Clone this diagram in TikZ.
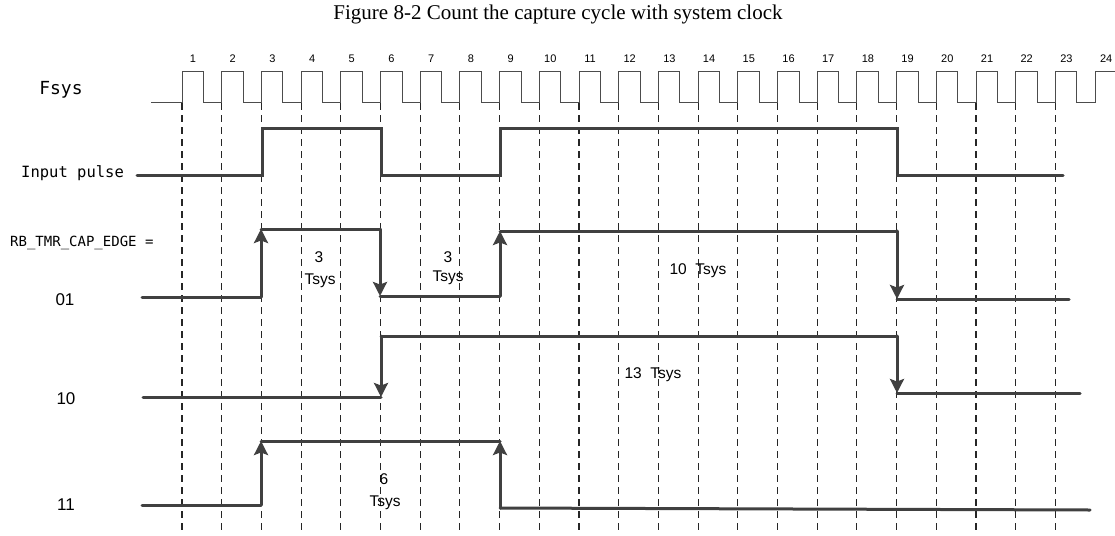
\documentclass[tikz,border=0pt]{standalone}
\usepackage{fontspec}
\setmainfont{Liberation Sans}
\newfontfamily\titlefont{Liberation Serif}
\newfontfamily\codefont{DejaVu Sans Mono}
\usetikzlibrary{arrows.meta}
\definecolor{wavegray}{HTML}{404040}

\begin{document}
\begin{tikzpicture}[x=1pt,y=-1pt,
    wave/.style={line width=3pt,wavegray,line cap=round},
    edge/.style={wave,-{Stealth[length=14pt,width=14pt,inset=2.5pt]}},
    clk/.style={line width=1pt,black!70},
    guide/.style={line width=1.1pt,black!85,dash pattern=on 7pt off 5pt},
    num/.style={font=\fontsize{11}{11}\selectfont,inner sep=0pt},
    lbl/.style={font=\fontsize{17}{17}\selectfont,inner sep=0pt},
    dur/.style={font=\fontsize{15.5}{15.5}\selectfont,inner sep=0pt}]
\useasboundingbox (0,0) rectangle (1115,535);
% title
\node[font=\titlefont\fontsize{21}{21}\selectfont] (title) at (558,14) {Figure 8-2 Count the capture cycle with system clock};
% system clock and the cycle marks
\draw[clk] (151,102) \foreach \k in {0,...,22}{ -- ({182+39.7*\k},102) -- ++(0,-31) -- ++(21.5,0) -- ++(0,31)} -- (1095,102) -- (1095,71) -- (1115,71);
\foreach \k in {1,...,24}
  \node[num] (n\k) at ({182+39.7*(\k-1)+11},59) {\k};
\foreach \k in {0,...,22}
  \draw[guide] ({182+39.7*\k},103) -- ({182+39.7*\k},532);
% row labels
\node[font=\codefont\fontsize{18}{18}\selectfont,inner sep=0pt] (fsys) at (61,90) {Fsys};
\node[font=\codefont\fontsize{15.5}{15.5}\selectfont,inner sep=0pt,anchor=west] (inp) at (21,173) {Input pulse};
\node[font=\codefont\fontsize{14}{14}\selectfont,inner sep=0pt,anchor=west] (edgesel) at (10,243) {RB\_TMR\_CAP\_EDGE =};
\node[lbl] (r01) at (65,300) {01};
\node[lbl] (r10) at (66,399) {10};
\node[lbl] (r11) at (66,505) {11};
% input pulse
\draw[wave] (137,175) -- (262,175) -- (262,128) -- (381,128) -- (381,175) -- (500,175) -- (500,128) -- (897,128) -- (897,175) -- (1063,175);
% 01: rising and falling edges
\draw[wave] (142,297) -- (261,297);
\draw[edge] (261,297) -- (261,229);
\draw[wave] (261,229) -- (380,229);
\draw[edge] (380,229) -- (380,296);
\draw[wave] (380,296) -- (500,296);
\draw[edge] (500,296) -- (500,231);
\draw[wave] (500,231) -- (897,231);
\draw[edge] (897,231) -- (897,299);
\draw[wave] (897,299) -- (1069,299);
% 10: falling edges
\draw[wave] (143,397) -- (381,397);
\draw[edge] (381,336) -- (381,397);
\draw[wave] (381,336) -- (897,336);
\draw[edge] (897,336) -- (897,393);
\draw[wave] (897,393) -- (1080,393);
% 11: rising edges
\draw[wave] (142,505) -- (261,505);
\draw[edge] (261,505) -- (261,441);
\draw[wave] (261,441) -- (500,441);
\draw[edge] (500,508) -- (500,441);
\draw[wave] (500,508) -- (1090,510);
% captured widths
\node[dur] (w1a) at (319,257) {3};
\node[dur] (w1b) at (320,281) {Tsys};
\node[dur] (w2a) at (448,257) {3};
\node[dur] (w2b) at (448,278) {Tsys};
\node[dur] (w3) at (698,271) {10\ \ Tsys};
\node[dur] (w4) at (653,375) {13\ \ Tsys};
\node[dur] (w5a) at (384,479) {6};
\node[dur] (w5b) at (385,503) {Tsys};
\end{tikzpicture}
\end{document}
